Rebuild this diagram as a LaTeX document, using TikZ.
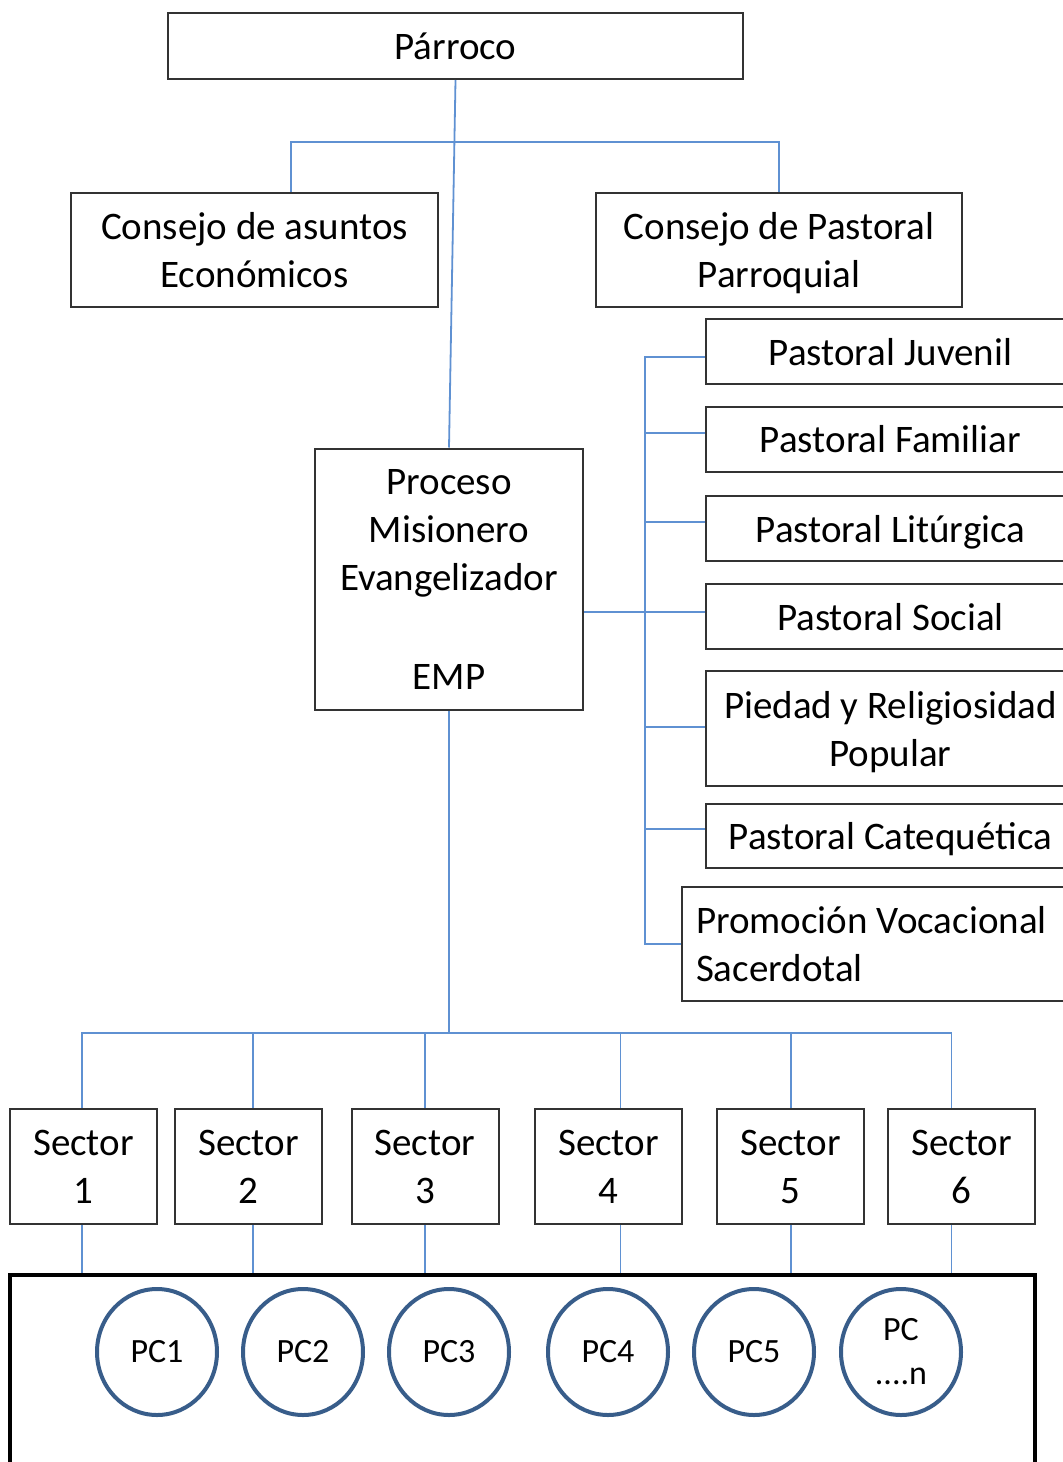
\documentclass[tikz,border=0pt]{standalone}
\usepackage{fontspec}
\setmainfont{Carlito}
\usepackage{tikz}
\usepackage{xcolor}
\definecolor{enlaceazul}{RGB}{95,145,210}
\definecolor{pcazul}{RGB}{56,93,138}
\usetikzlibrary{shapes.geometric}
\tikzset{cajabase/.style={draw=black!80, line width=1pt, inner sep=0pt,
   font=\fontsize{19.5}{24}\selectfont},
 caja/.style={cajabase, align=center, text depth=0pt},
 pastoralcaja/.style={caja, minimum width=184.5pt, minimum height=32.5pt},
 sectorcaja/.style={caja, minimum width=73.5pt, minimum height=57.5pt},
 enlace/.style={draw=enlaceazul, line width=0.9pt},
 pc/.style={ellipse, draw=pcazul, line width=2pt, minimum width=60pt, minimum height=63pt,
   inner sep=0pt, align=center, font=\fontsize{17}{22}\selectfont},
 marco/.style={draw=black, line width=2.2pt, inner sep=0pt},
 }

\begin{document}
\begin{tikzpicture}[x=0.5pt, y=-0.5pt]
    \useasboundingbox (0,0) rectangle (1063,1462);
    \clip (0,0) rectangle (1063,1462);
        \node[caja, minimum width=287.5pt, minimum height=33pt] (parroco) at (455.5,46) {Párroco};
        \node[caja, minimum width=183.5pt, minimum height=57pt] (economicos) at (254.5,249.5) {Consejo de asuntos\\Económicos};
        \node[caja, minimum width=183pt, minimum height=57pt] (consejo) at (779,249.5) {Consejo de Pastoral\\Parroquial};
        \node[caja, minimum width=134pt, minimum height=130.5pt] (emp) at (449,579) {Proceso\\Misionero\\Evangelizador\\[25.5pt]EMP};

        \node[pastoralcaja] (juvenil) at (890.5,351.5) {Pastoral Juvenil};
        \node[pastoralcaja] (familiar) at (890.5,439) {Pastoral Familiar};
        \node[pastoralcaja] (liturgica) at (890.5,528.5) {Pastoral Litúrgica};
        \node[pastoralcaja] (social) at (890.5,616.5) {Pastoral Social};
        \node[pastoralcaja, minimum height=57.5pt] (piedad) at (890.5,728.5) {Piedad y Religiosidad\\Popular};
        \node[pastoralcaja, minimum height=32pt] (catequetica) at (890.5,836) {Pastoral Catequética};
        \node[cajabase, align=flush left, text width=182.5pt, inner xsep=7pt, minimum height=57pt] (promocion) at (878.5,944) {Promoción Vocacional\\Sacerdotal};

        \node[marco, minimum width=512.5pt, minimum height=105pt] (marco) at (522.5,1380) {};

        \foreach \i/\x in {1/83.5,2/248.5,3/425,4/608.5,5/790.5,6/961.5}
            \node[sectorcaja] (sector\i) at (\x,1166.5) {Sector\\\i};

        \foreach \i/\x in {1/157,2/303,3/449,4/608,5/754}
            \node[pc] (pc\i) at (\x,1352) {PC\i};
        \node[pc] (pcn) at (901,1352) {PC\\....n};

        \coordinate (barra) at (455,142);
        \coordinate (barrasector) at (449,1033);
        \coordinate (tronco) at (645,612);

        \draw[enlace] (parroco.south) -- (emp.north);
        \draw[enlace] ([xshift=18.25pt]economicos.north) |- (barra) -| (consejo.north);

        \draw[enlace] (emp.east |- tronco) -- (tronco);
        \foreach \n/\dy in {juvenil/-2.75,familiar/3,liturgica/3.25,social/2.25,piedad/0.75,catequetica/3.5,promocion/0}
            \draw[enlace] ([yshift=\dy pt]\n.west) -| (tronco);

        \draw[enlace] (emp.south) -- (barrasector);
        \foreach \i/\dx in {1/-0.75,2/2.25,3/0,4/6,5/0.25,6/-5}
        {
            \draw[enlace] ([xshift=\dx pt]sector\i.north) |- (barrasector);
            \draw[enlace] ([xshift=\dx pt]sector\i.south) -- ([xshift=\dx pt]sector\i.south |- marco.north);
        }
    \end{tikzpicture}
\end{document}
